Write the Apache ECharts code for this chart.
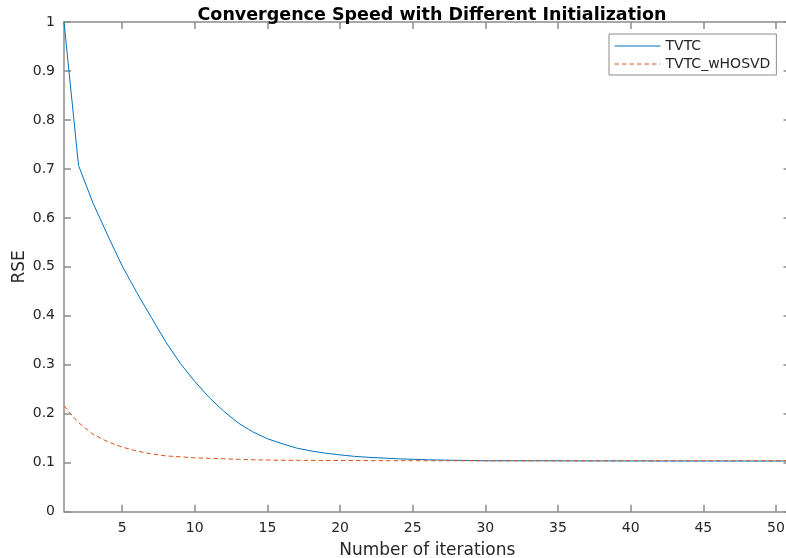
<!DOCTYPE html>
<html>
<head>
<meta charset="utf-8">
<script src="https://cdn.jsdelivr.net/npm/echarts@6/dist/echarts.min.js"></script>
<style>
  html, body { margin: 0; padding: 0; background: #fff; }
  #chart { width: 786px; height: 558px; }
</style>
</head>
<body>
<div id="chart"></div>
<script>
// Iteration index for every sample
const iterations = [
  1, 2, 3, 4, 5, 6, 7, 8, 9, 10,
  11, 12, 13, 14, 15, 16, 17, 18, 19, 20,
  21, 22, 23, 24, 25, 26, 27, 28, 29, 30,
  31, 32, 33, 34, 35, 36, 37, 38, 39, 40,
  41, 42, 43, 44, 45, 46, 47, 48, 49, 50, 51
];

// RSE per iteration, default initialization
const rseTVTC = [
  1.000, 0.707, 0.630, 0.565, 0.502, 0.448, 0.397, 0.347, 0.303, 0.266,
  0.233, 0.205, 0.181, 0.163, 0.149, 0.139, 0.130, 0.124, 0.1195, 0.116,
  0.113, 0.111, 0.1095, 0.108, 0.107, 0.106, 0.1055, 0.105, 0.1045, 0.104,
  0.104, 0.104, 0.104, 0.104, 0.1038, 0.1038, 0.1037, 0.1037, 0.1036, 0.1036,
  0.1036, 0.1035, 0.1035, 0.1035, 0.1035, 0.1035, 0.1035, 0.1035, 0.1035, 0.1035, 0.1035
];

// RSE per iteration, HOSVD initialization
const rseTVTCwHOSVD = [
  0.216, 0.182, 0.158, 0.143, 0.132, 0.124, 0.118, 0.114, 0.112, 0.110,
  0.109, 0.108, 0.107, 0.106, 0.1055, 0.105, 0.105, 0.1048, 0.1046, 0.1045,
  0.1044, 0.1043, 0.1042, 0.1042, 0.1041, 0.1041, 0.104, 0.104, 0.104, 0.104,
  0.104, 0.104, 0.104, 0.104, 0.104, 0.104, 0.104, 0.104, 0.104, 0.104,
  0.104, 0.104, 0.104, 0.104, 0.104, 0.104, 0.104, 0.104, 0.104, 0.104, 0.104
];

// Axis ticks
const xTicks = [5, 10, 15, 20, 25, 30, 35, 40, 45, 50];
const seriesNames = ['TVTC', 'TVTC_wHOSVD'];

const font = 'DejaVu Sans';
const axisColor = '#8c8c8c';
const textColor = '#262626';

const toPairs = (ys) => iterations.map((x, i) => [x, ys[i]]);

const chart = echarts.init(document.getElementById('chart'), null, { renderer: 'canvas' });

const baseX = {
  type: 'value',
  min: 1,
  max: 51,
  splitLine: { show: false },
  axisLine: { show: true, onZero: false, lineStyle: { color: axisColor, width: 1.5 } },
  axisTick: { show: true, inside: true, length: 7, customValues: xTicks,
              lineStyle: { color: axisColor, width: 1.5 } }
};

const baseY = {
  type: 'value',
  min: 0,
  max: 1,
  interval: 0.1,
  splitLine: { show: false },
  axisLine: { show: true, onZero: false, lineStyle: { color: axisColor, width: 1.5 } },
  axisTick: { show: true, inside: true, length: 7, lineStyle: { color: axisColor, width: 1.5 } }
};

chart.setOption({
  animation: false,
  backgroundColor: '#ffffff',
  title: {
    text: 'Convergence Speed with Different Initialization',
    left: 427,
    textAlign: 'center',
    top: 1,
    textStyle: { fontFamily: font, fontWeight: 'bold', fontSize: 17.5, color: '#000000' }
  },
  legend: {
    orient: 'vertical',
    left: 609,
    top: 34,
    data: seriesNames,
    itemWidth: 46,
    itemHeight: 14,
    itemGap: 4,
    padding: [5, 6, 4, 5],
    backgroundColor: '#ffffff',
    borderColor: '#8c8c8c',
    borderWidth: 1,
    borderRadius: 0,
    itemStyle: { opacity: 0 },
    lineStyle: { width: 1 },
    textStyle: { fontFamily: font, fontSize: 14, color: textColor }
  },
  grid: {
    left: 64, top: 22, width: 726.5, height: 489.7,
    containLabel: false, outerBoundsMode: 'none'
  },
  xAxis: [
    Object.assign({}, baseX, {
      position: 'bottom',
      name: 'Number of iterations',
      nameLocation: 'middle',
      nameGap: 30,
      nameMoveOverlap: false,
      nameTextStyle: { fontFamily: font, fontSize: 17, color: textColor },
      axisLabel: { show: true, customValues: xTicks, margin: 10,
                   fontFamily: font, fontSize: 14, color: textColor }
    }),
    Object.assign({}, baseX, {
      position: 'top',
      axisLabel: { show: false }
    })
  ],
  yAxis: [
    Object.assign({}, baseY, {
      position: 'left',
      name: 'RSE',
      nameLocation: 'middle',
      nameGap: 36,
      nameMoveOverlap: false,
      nameRotate: 90,
      nameTextStyle: { fontFamily: font, fontSize: 17, color: textColor },
      axisLabel: { show: true, margin: 9, fontFamily: font, fontSize: 14, color: textColor,
                   formatter: (v) => String(Math.round(v * 10) / 10) }
    }),
    Object.assign({}, baseY, {
      position: 'right',
      axisLabel: { show: false }
    })
  ],
  series: [
    {
      name: seriesNames[0],
      type: 'line',
      data: toPairs(rseTVTC),
      symbol: 'none',
      smooth: false,
      lineStyle: { color: '#0072BD', width: 1 },
      itemStyle: { color: '#0072BD' },
      z: 3
    },
    {
      name: seriesNames[1],
      type: 'line',
      data: toPairs(rseTVTCwHOSVD),
      symbol: 'none',
      smooth: false,
      lineStyle: { color: '#D95319', width: 1, type: [4.5, 3] },
      itemStyle: { color: '#D95319' },
      z: 4
    }
  ]
});
</script>
</body>
</html>
